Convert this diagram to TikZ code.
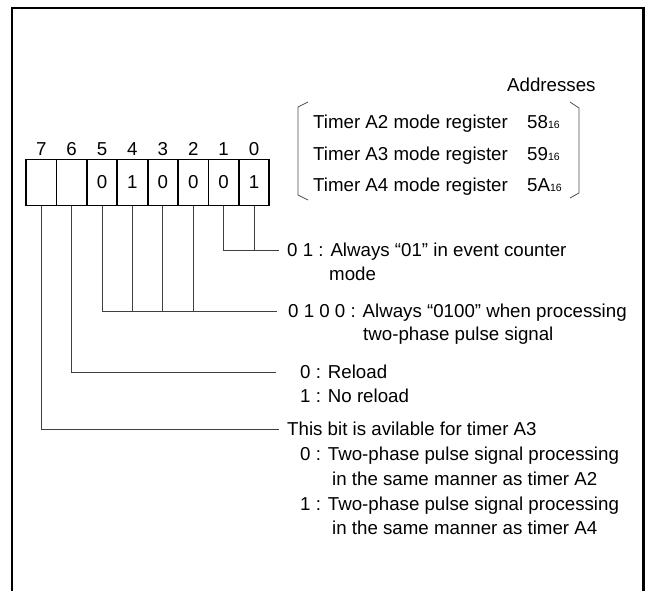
\documentclass[tikz,border=0pt]{standalone}
\usepackage{fontspec}
\setmainfont{Liberation Sans}
\newcommand{\subsx}[1]{{\fontsize{10.5}{12}\selectfont #1}}
\begin{document}
\begin{tikzpicture}[x=1pt,y=-1pt,
  every node/.style={font=\fontsize{18.7}{22}\selectfont},
  txt/.style={inner sep=0pt, anchor=base west},
  cell/.style={draw, line width=1.8pt, minimum width=30.4pt, minimum height=46pt, inner sep=0pt},
  bitnum/.style={inner sep=0pt},
  conn/.style={line width=0.9pt, black!75},
  frame/.style={line width=2.6pt, line join=miter},
  brk/.style={line width=0.8pt, black!70}]
\useasboundingbox (0,0) rectangle (647,590);
% frame
\draw[frame] (12,592) -- (12,8) -- (643.7,8) -- (643.7,592);
% register
\foreach \b/\v in {7/,6/,5/0,4/1,3/0,2/0,1/0,0/1}{
  \node[cell] (c\b) at ({41.2+30.4*(7-\b)},182.5) {\v};
  \node[bitnum] (n\b) at ({41.2+30.4*(7-\b)},149) {\b};
}
% addresses
\node[txt] (addr) at (507,91.7) {Addresses};
\node[txt] (r2) at (313,128.7) {Timer A2 mode register};
\node[txt] (r3) at (313,160.2) {Timer A3 mode register};
\node[txt] (r4) at (313,191.7) {Timer A4 mode register};
\node[txt] (a2) at (527,128.7) {58\subsx{16}};
\node[txt] (a3) at (527,160.2) {59\subsx{16}};
\node[txt] (a4) at (527,191.7) {5A\subsx{16}};
\draw[brk] (308,102) -- (298,107) -- (298,195) -- (308,200);
\draw[brk] (570,102) -- (579,108) -- (579,193) -- (570,198);
% labels
\node[txt] (l1a) at (287,256.7) {0 1 : Always “01” in event counter};
\node[txt] (l1b) at (329,280.2) {mode};
\node[txt] (l2a) at (288,317.2) {0 1 0 0 : Always “0100” when processing};
\node[txt] (l2b) at (363,340.7) {two-phase pulse signal};
\node[txt] (l3a) at (300,378.7) {0 : Reload};
\node[txt] (l3b) at (300,402.7) {1 : No reload};
\node[txt] (l4a) at (287,435.7) {This bit is avilable for timer A3};
\node[txt] (l4b) at (300,460.7) {0 : Two-phase pulse signal processing};
\node[txt] (l4c) at (332,485.2) {in the same manner as timer A2};
\node[txt] (l4d) at (300,510.2) {1 : Two-phase pulse signal processing};
\node[txt] (l4e) at (332,534.7) {in the same manner as timer A4};
% connector ends
\coordinate (e1) at (279,250);
\coordinate (e2) at (277,311);
\coordinate (e3) at (276,372);
\coordinate (e4) at (279,429);
\draw[conn] (c1.south) |- (e1);
\draw[conn] (c0.south) -- (c0.south |- e1);
\draw[conn] (c5.south) |- (e2);
\foreach \b in {4,3,2}{\draw[conn] (c\b.south) -- (c\b.south |- e2);}
\draw[conn] (c6.south) |- (e3);
\draw[conn] (c7.south) |- (e4);
\end{tikzpicture}
\end{document}
